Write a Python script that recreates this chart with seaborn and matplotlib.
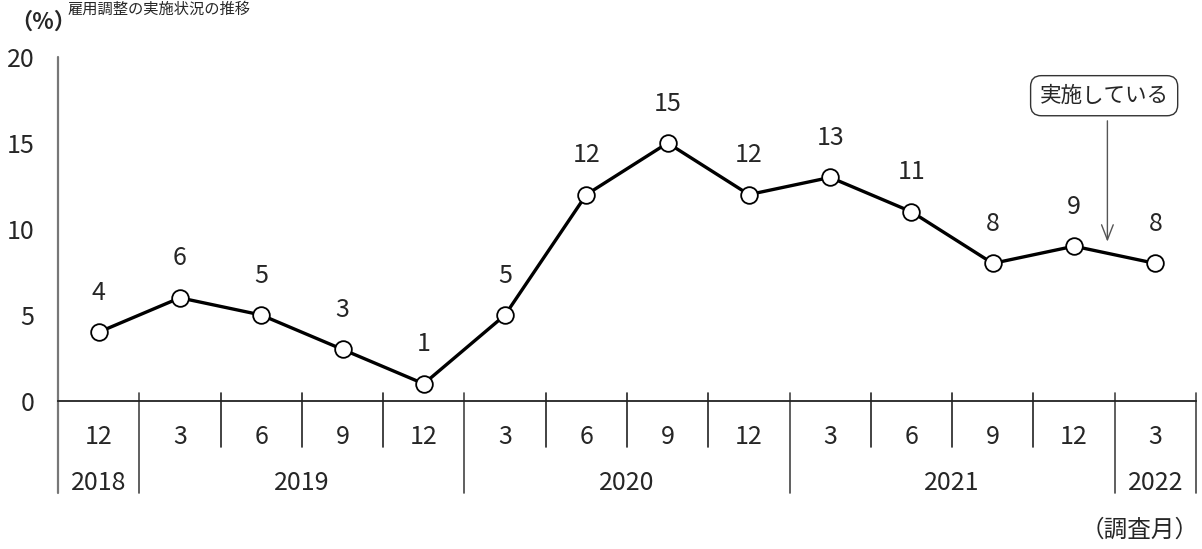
import matplotlib
matplotlib.use("Agg")
import matplotlib.pyplot as plt
import seaborn as sns
import pandas as pd

# ---- data ----
months = ["12", "3", "6", "9", "12", "3", "6", "9", "12", "3", "6", "9", "12", "3"]
values = [4, 6, 5, 3, 1, 5, 12, 15, 12, 13, 11, 8, 9, 8]
years = ["2018", "2019", "2020", "2021", "2022"]
year_spans = [1, 4, 4, 4, 1]
yticks = [0, 5, 10, 15, 20]
title = "雇用調整の実施状況の推移"
y_unit = "（%）"
x_unit = "（調査月）"
annot_text = "実施している"

sns.set_theme(style="white")
plt.rcParams["font.family"] = ["Noto Sans CJK JP", "DejaVu Sans"]

fig = plt.figure(figsize=(12.02, 5.49), dpi=100)
ax = fig.add_axes([58 / 1202, 1 - 401 / 549, (1196 - 58) / 1202, (401 - 57) / 549])

df = pd.DataFrame({"x": range(len(values)), "y": values})
sns.lineplot(data=df, x="x", y="y", ax=ax, color="black", linewidth=2.4,
             marker="o", markersize=12, markerfacecolor="white",
             markeredgecolor="black", markeredgewidth=1.3, zorder=3)

ax.set_xlim(-0.5, len(values) - 0.5)
ax.set_ylim(0, 20)
ax.set_yticks(yticks)
ax.set_yticklabels([str(t) for t in yticks], fontsize=18)
ax.tick_params(axis="y", direction="in", length=8, width=1.2, color="#777777", pad=17)
ax.set_xticks([])
ax.set_xlabel("")
ax.set_ylabel("")

for s in ["top", "right", "left"]:
    ax.spines[s].set_visible(False)
ax.spines["bottom"].set_color("#222222")
ax.spines["bottom"].set_linewidth(1.3)

# left axis line extending below into table area
trans = ax.get_xaxis_transform()
ax.plot([-0.5, -0.5], [1.0, -0.267], transform=trans, color="#777777", lw=1.6, clip_on=False)

# value labels
for i, v in enumerate(values):
    ax.annotate(str(v), (i, v), xytext=(0, 19), textcoords="offset points",
                ha="center", va="bottom", fontsize=18)

# month labels & separators
year_bounds = [-0.5]
acc = -0.5
for s in year_spans:
    acc += s
    year_bounds.append(acc)
for i, m in enumerate(months):
    ax.text(i, -0.105, m, transform=trans, ha="center", va="center", fontsize=18)
for b in [i + 0.5 for i in range(0, len(months))]:
    if b in year_bounds:
        ax.plot([b, b], [0.023, -0.267], transform=trans, color="#444444", lw=1.2, clip_on=False)
    else:
        ax.plot([b, b], [0.023, -0.134], transform=trans, color="#222222", lw=1.2, clip_on=False)

# year labels
for yr, a, b in zip(years, year_bounds[:-1], year_bounds[1:]):
    ax.text((a + b) / 2, -0.238, yr, transform=trans, ha="center", va="center", fontsize=18)

# units and title
fig.text(10 / 1202, 1 - 22 / 549, y_unit, ha="left", va="center", fontsize=16, fontweight="bold")
fig.text(1199 / 1202, 1 - 530 / 549, x_unit, ha="right", va="center", fontsize=17)
fig.text(68 / 1202, 1 - 9 / 549, title, ha="left", va="center", fontsize=11)

# annotation box with arrow
ax.annotate("", xy=(12.41, 9.1), xytext=(12.41, 16.45),
            arrowprops=dict(arrowstyle="->,head_length=0.9,head_width=0.35",
                            color="#555555", lw=1.0))
ax.text(12.37, 17.75, annot_text, ha="center", va="center", fontsize=15.5,
        bbox=dict(boxstyle="round,pad=0.42,rounding_size=0.5", fc="white",
                  ec="#333333", lw=1.0))

fig.savefig("out.png", dpi=100)
